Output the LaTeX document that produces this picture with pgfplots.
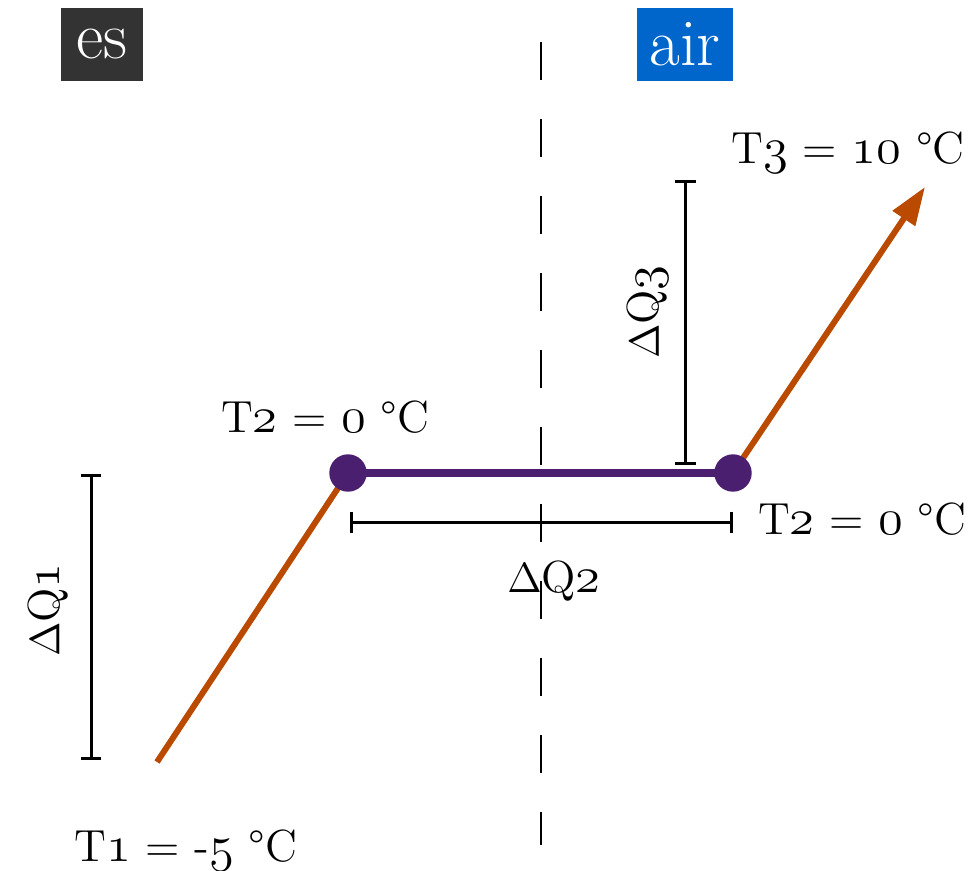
\documentclass[border=0pt]{standalone}
\usepackage{pgfplots}
\pgfplotsset{compat=1.18}
\usetikzlibrary{arrows.meta}
\definecolor{heatorange}{RGB}{185,74,0}
\definecolor{phasepurple}{RGB}{75,31,111}
\definecolor{boxblue}{RGB}{0,102,204}
\definecolor{boxgray}{RGB}{51,51,51}
\newcommand\osf[1]{{\fontencoding{OML}\fontfamily{cmm}\fontseries{m}\fontshape{it}\fontsize{14.8}{16}\selectfont #1}}
\newcommand\lbl{\fontsize{12.8}{15}\selectfont}
\begin{document}
\begin{tikzpicture}
\begin{axis}[name=main,
  width=9.68cm, height=8.71cm, scale only axis,
  xmin=0, xmax=968, ymin=0, ymax=871, y dir=reverse,
  hide axis, clip=false,
  every node/.append style={inner sep=0pt, outer sep=0pt}]
% dashed divider
\addplot[black, line width=0.15mm, dash pattern=on 3.8mm off 3.9mm] coordinates {(541,42) (541,845)};
% ice heating
\addplot[heatorange, line width=0.6mm] coordinates {(157,762) (348,473)};
% water heating
\addplot[heatorange, line width=0.6mm, -{Triangle[length=3.8mm,width=2.6mm]}] coordinates {(733,473) (925,187)};
% melting plateau
\addplot[phasepurple, line width=0.75mm] coordinates {(348,473) (733,473)};
\addplot[only marks, mark=*, mark size=1.8mm, phasepurple, mark options={draw=phasepurple, fill=phasepurple}] coordinates {(348,473) (733,473)};
% brackets
\addplot[black, line width=0.3mm, {Bar[width=2.1mm]}-{Bar[width=2.1mm]}] coordinates {(91,474) (91,760)};
\addplot[black, line width=0.3mm, {Bar[width=2.1mm]}-{Bar[width=2.1mm]}] coordinates {(350,522) (733,522)};
\addplot[black, line width=0.3mm, {Bar[width=2.1mm]}-{Bar[width=2.1mm]}] coordinates {(685,180) (685,465)};
% boxes
\node[fill=boxgray, text=white, minimum width=8.2mm, minimum height=7.3mm, inner sep=0pt, font=\fontsize{19}{22}\selectfont] at (axis cs:102,44.5) {es};
\node[fill=boxblue, text=white, minimum width=9.6mm, minimum height=7.3mm, inner sep=0pt, font=\fontsize{19}{22}\selectfont] at (axis cs:685,44.5) {air};
% labels
\node[font=\lbl, anchor=base] at (axis cs:325,432) {T\osf{2} = \osf{0} \textdegree C};
\node[font=\lbl, anchor=base] at (axis cs:862,535) {T\osf{2} = \osf{0} \textdegree C};
\node[font=\lbl, anchor=base] at (axis cs:848,163) {T\osf{3} = \osf{10} \textdegree C};
\node[font=\lbl, anchor=base] at (axis cs:186,862) {T\osf{1} = -\osf{5} \textdegree C};
\node[font=\lbl, anchor=base] at (axis cs:554,592) {$\Delta$Q\osf{2}};
\node[font=\lbl, anchor=center, rotate=90] at (axis cs:48,610) {$\Delta$Q\osf{1}};
\node[font=\lbl, anchor=center, rotate=90] at (axis cs:648,312) {$\Delta$Q\osf{3}};
\end{axis}
\pgfresetboundingbox
\path (main.south west) rectangle (main.north east);
\end{tikzpicture}
\end{document}
